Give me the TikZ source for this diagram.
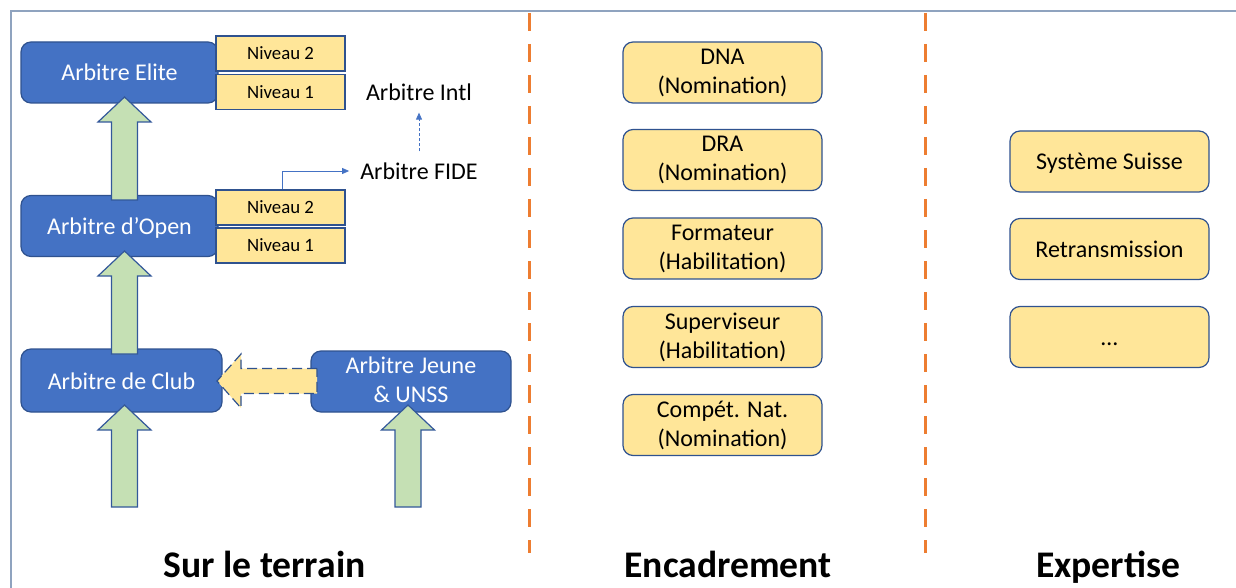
\documentclass[tikz,border=0pt]{standalone}
\usepackage{fontspec}
\setmainfont{Carlito}
\usetikzlibrary{calc,arrows.meta}
\definecolor{refblue}{HTML}{4472C4}
\definecolor{refborder}{HTML}{2F528F}
\definecolor{refyellow}{HTML}{FFE699}
\definecolor{refgreen}{HTML}{C5E0B4}
\definecolor{reforange}{HTML}{ED7D31}
\definecolor{refframe}{HTML}{8FA3BF}
\newcommand{\boxstrut}{\rule[-3pt]{0pt}{23pt}}
\newcommand{\blockup}[2]{%
	\draw[greenarrow] ($(#1)+(-13,0)$) -- ($(#2)+(-13,25)$) -- ($(#2)+(-26.5,25)$) -- (#2)
	  -- ($(#2)+(26.5,25)$) -- ($(#2)+(13,25)$) -- ($(#1)+(13,0)$) -- cycle;}
\tikzset{
	levelbox/.style={draw=refborder, fill=refblue, text=white, line width=1.2pt, rounded corners=10pt,
	  minimum width=197pt, minimum height=61pt, align=center, inner sep=0pt, font=\fontsize{24}{29}\selectfont,
	  execute at begin node=\boxstrut},
	niveaubox/.style={draw=refborder, fill=refyellow, line width=1.2pt, minimum width=129pt,
	  minimum height=35pt, inner sep=0pt, font=\fontsize{18.8}{22}\selectfont},
	rolebox/.style={draw=refborder, fill=refyellow, line width=1.2pt, rounded corners=10pt,
	  minimum width=199pt, minimum height=61pt, align=center, inner sep=0pt, font=\fontsize{24}{29}\selectfont,
	  execute at begin node=\boxstrut},
	label/.style={inner sep=0pt, font=\fontsize{24}{29}\selectfont},
	title/.style={inner sep=0pt, anchor=base, font=\fontsize{37.6}{45}\selectfont\bfseries},
	greenarrow/.style={fill=refgreen, draw=refborder!80!refblue, line width=1.2pt},
	divider/.style={draw=reforange, line width=3pt, dash pattern=on 18pt off 13pt},
	link/.style={draw=refblue, line width=0.8pt, -{Triangle[length=7pt,width=6pt]}}
}
\begin{document}
\begin{tikzpicture}[x=1pt,y=-1pt]
	\useasboundingbox (0,0) rectangle (1236,588);
	\draw[refframe, line width=2pt] (1236,11) -- (11,11) -- (11,588);
	\draw[divider] (529.5,13) -- (529.5,553);
	\draw[divider] (925,13) -- (925,553);
	\node[levelbox] (elite) at (119.5,72.5) {Arbitre Elite};
	\node[levelbox] (open) at (119.5,226) {Arbitre d’Open};
	\node[levelbox, minimum width=201pt, minimum height=63pt] (club) at (121.5,380.5) {Arbitre de Club};
	\node[levelbox, minimum width=200pt] (jeune) at (411,381.5) {Arbitre Jeune\\\& UNSS};
	\node[niveaubox] (elite2) at (280.5,53.5) {Niveau 2};
	\node[niveaubox] (elite1) at (280.5,92) {Niveau 1};
	\node[niveaubox] (open2) at (280.5,207.5) {Niveau 2};
	\node[niveaubox] (open1) at (280.5,245.5) {Niveau 1};
	\node[label] (fide) at (419,171) {Arbitre FIDE};
	\node[label] (intl) at (419,92) {Arbitre Intl};
	\coordinate (fideturn) at (282,171);
	\draw[link, shorten >=11pt] (open2.north -| fideturn) |- (fide.west);
	\draw[link, dashed, dash pattern=on 3pt off 2pt, shorten <=11pt, shorten >=12pt] (fide.north) -- (intl.south);
	\coordinate (tipelite) at (124.5,97);
	\coordinate (baseelite) at (124.5,200);
	\coordinate (tipopen) at (124.5,251);
	\coordinate (baseopen) at (124.5,354);
	\coordinate (tipclub) at (124.5,405);
	\coordinate (baseclub) at (124.5,507);
	\coordinate (tipjeune) at (408,405);
	\coordinate (basejeune) at (408,507);
	\blockup{baseelite}{tipelite}
	\blockup{baseopen}{tipopen}
	\blockup{baseclub}{tipclub}
	\blockup{basejeune}{tipjeune}
	\coordinate (tipside) at (217,381);
	\coordinate (baseside) at (317,381);
	\draw[fill=refyellow, draw=refborder, line width=1.2pt, dash pattern=on 10pt off 5pt]
	  ($(baseside)+(0,-12.5)$) -- ($(tipside)+(24,-12.5)$) -- ($(tipside)+(24,-27)$) -- (tipside)
	  -- ($(tipside)+(24,27)$) -- ($(tipside)+(24,12.5)$) -- ($(baseside)+(0,12.5)$) -- cycle;
	\node[rolebox] (dna) at (722.5,72.5) {DNA\\(Nomination)};
	\node[rolebox] (dra) at (722.5,160) {DRA\\(Nomination)};
	\node[rolebox] (formateur) at (722.5,248.5) {Formateur\\(Habilitation)};
	\node[rolebox] (superviseur) at (722.5,337) {Superviseur\\(Habilitation)};
	\node[rolebox] (competnat) at (722.5,425) {Compét. Nat.\\(Nomination)};
	\node[rolebox] (suisse) at (1109.5,161.5) {Système Suisse};
	\node[rolebox] (retrans) at (1109.5,249) {Retransmission};
	\node[rolebox] (autre) at (1109.5,337) {\ldots};
	\node[title] (terrain) at (264.5,577) {Sur le terrain};
	\node[title] (encadrement) at (728,577) {Encadrement};
	\node[title] (expertise) at (1108,577) {Expertise};
\end{tikzpicture}
\end{document}
